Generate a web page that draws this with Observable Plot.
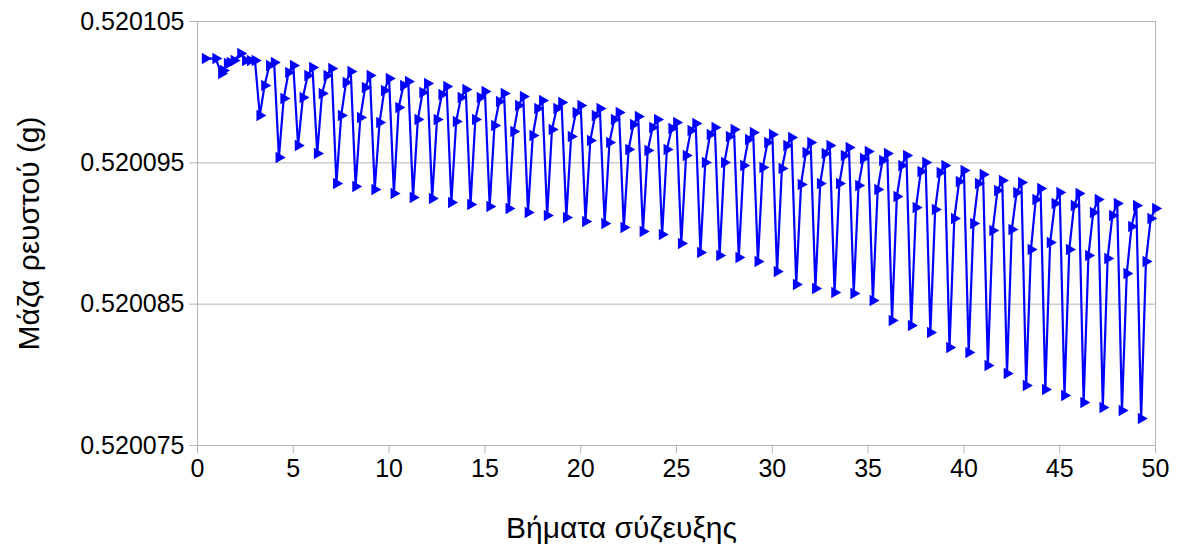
<!DOCTYPE html>
<html>
<head>
<meta charset="utf-8">
<script src="https://cdn.jsdelivr.net/npm/d3@7"></script>
<script src="https://cdn.jsdelivr.net/npm/@observablehq/plot@0.6"></script>
<style>
  html, body { margin: 0; padding: 0; background: #fff; }
  #chart svg { display: block; font-family: "Liberation Sans", Arial, sans-serif; }
</style>
</head>
<body>
<div id="chart"></div>
<script>
// Initial (settling) points
const earlyX = [0.4, 0.95, 1.25, 1.35, 1.55, 1.7, 1.9, 2.25, 2.5, 2.75, 3.0];
const earlyMass = [0.52010238, 0.52010238, 0.52010132, 0.52010153, 0.52010203, 0.52010210, 0.52010224, 0.52010274, 0.52010224, 0.52010224, 0.52010224];

// Coupling cycles 3..49: four samples each (bottom, mid, upper, top)
const cycleStep = d3.range(3, 50);
const subStep = [0.25, 0.5, 0.75, 1.0];
const bottomMass = [0.52009835,0.52009538,0.52009623,0.52009566,0.52009354,0.52009333,0.52009311,0.52009283,0.52009255,0.52009248,0.52009219,0.52009205,0.52009191,0.52009177,0.52009149,0.52009127,0.52009113,0.52009085,0.52009071,0.52009042,0.52009014,0.52008993,0.52008929,0.52008866,0.52008844,0.52008830,0.52008802,0.52008731,0.52008639,0.52008611,0.52008583,0.52008575,0.52008526,0.52008384,0.52008349,0.52008300,0.52008193,0.52008158,0.52008066,0.52008009,0.52007924,0.52007896,0.52007854,0.52007804,0.52007769,0.52007748,0.52007691];
const midMass = [0.52010047,0.52009955,0.52009962,0.52009991,0.52009835,0.52009821,0.52009785,0.52009892,0.52009807,0.52009807,0.52009792,0.52009807,0.52009764,0.52009722,0.52009693,0.52009736,0.52009686,0.52009658,0.52009644,0.52009594,0.52009587,0.52009594,0.52009552,0.52009502,0.52009502,0.52009481,0.52009467,0.52009460,0.52009347,0.52009354,0.52009354,0.52009340,0.52009311,0.52009262,0.52009184,0.52009170,0.52009106,0.52009071,0.52009021,0.52009028,0.52008887,0.52008936,0.52008887,0.52008844,0.52008823,0.52008717,0.52008802];
const upperMass = [0.52010189,0.52010139,0.52010118,0.52010118,0.52010068,0.52010033,0.52010012,0.52010047,0.52009998,0.52009983,0.52009962,0.52009962,0.52009934,0.52009906,0.52009884,0.52009884,0.52009856,0.52009835,0.52009807,0.52009771,0.52009750,0.52009743,0.52009729,0.52009700,0.52009686,0.52009665,0.52009644,0.52009623,0.52009573,0.52009566,0.52009552,0.52009531,0.52009516,0.52009481,0.52009439,0.52009432,0.52009368,0.52009354,0.52009304,0.52009290,0.52009241,0.52009212,0.52009198,0.52009149,0.52009127,0.52009050,0.52009106];
const topMass = [0.52010210,0.52010189,0.52010175,0.52010167,0.52010146,0.52010118,0.52010097,0.52010075,0.52010061,0.52010040,0.52010019,0.52010005,0.52009991,0.52009969,0.52009941,0.52009927,0.52009906,0.52009884,0.52009856,0.52009828,0.52009807,0.52009785,0.52009778,0.52009750,0.52009736,0.52009715,0.52009700,0.52009679,0.52009644,0.52009623,0.52009608,0.52009580,0.52009566,0.52009552,0.52009502,0.52009481,0.52009446,0.52009417,0.52009375,0.52009361,0.52009318,0.52009290,0.52009283,0.52009241,0.52009212,0.52009198,0.52009177];

const xTicks = [0, 5, 10, 15, 20, 25, 30, 35, 40, 45, 50];
const yTicks = [0.520075, 0.520085, 0.520095, 0.520105];
const xLabel = "Βήματα σύζευξης";
const yLabel = "Μάζα ρευστού (g)";

// Build table
const data = [];
earlyX.forEach((x, i) => data.push({x, m: earlyMass[i]}));
cycleStep.forEach((k, i) => {
  const vals = [bottomMass[i], midMass[i], upperMass[i], topMass[i]];
  subStep.forEach((s, j) => data.push({x: k + s, m: vals[j]}));
});

const blue = "#0000ff";
const grid = "#b3b3b3";

const chart = Plot.plot({
  width: 1179,
  height: 548,
  marginLeft: 197,
  marginRight: 24,
  marginTop: 21,
  marginBottom: 103,
  style: {fontFamily: "'Liberation Sans', Arial, sans-serif", background: "#fff"},
  x: {domain: [0, 50]},
  y: {domain: [0.520075, 0.520105]},
  marks: [
    Plot.gridY(yTicks, {stroke: grid, strokeOpacity: 1, strokeWidth: 1}),
    Plot.frame({stroke: grid, strokeWidth: 1}),
    Plot.axisY({ticks: yTicks, tickFormat: d => d.toFixed(6), tickSize: 8, tickPadding: 5,
      stroke: grid, strokeOpacity: 1, fill: "black", fontSize: 25, label: null}),
    Plot.axisX({ticks: xTicks, tickFormat: d => String(d), tickSize: 8, tickPadding: 6,
      stroke: grid, strokeOpacity: 1, fill: "black", fontSize: 25, label: null}),
    Plot.line(data, {x: "x", y: "m", stroke: blue, strokeWidth: 2.2}),
    Plot.dot(data, {x: "x", y: "m", symbol: "triangle", rotate: 90, fill: blue, stroke: "none", r: 4.3}),
    Plot.text([xLabel], {frameAnchor: "bottom", dx: -55, dy: 83, fontSize: 30, fill: "black", textAnchor: "middle", lineAnchor: "middle"}),
    Plot.text([yLabel], {frameAnchor: "left", dx: -168, rotate: -90, fontSize: 30, fill: "black", textAnchor: "middle", lineAnchor: "middle"})
  ]
});
document.getElementById("chart").appendChild(chart);
</script>
</body>
</html>
